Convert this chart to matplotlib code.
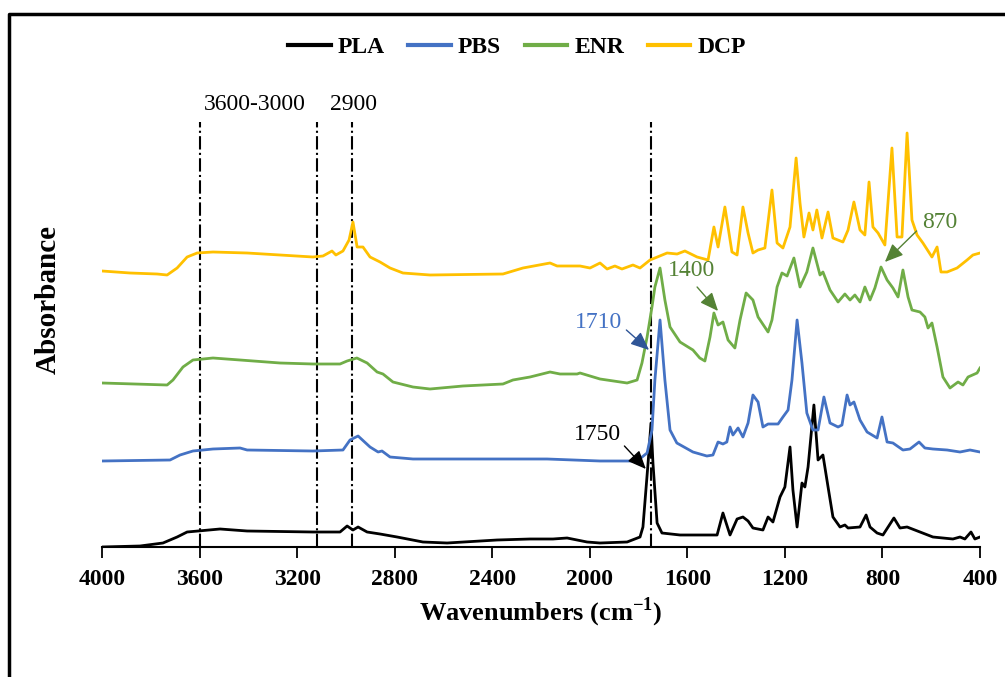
import matplotlib.pyplot as plt
from matplotlib.lines import Line2D

plt.rcParams['font.family'] = ['Liberation Serif', 'DejaVu Serif']
plt.rcParams['mathtext.fontset'] = 'custom'
plt.rcParams['mathtext.rm'] = 'Liberation Serif'
plt.rcParams['mathtext.bf'] = 'Liberation Serif:bold'

# wavenumbers (cm-1) and stacked absorbance (arbitrary units, offset per sample)
pla_wn = [4000, 3844, 3750, 3692, 3651, 3606, 3516, 3405, 3135, 3024, 2995, 2971, 2950, 2913, 2860,
          2790, 2684, 2585, 2380, 2245, 2151, 2093, 2011, 1958, 1847, 1794, 1782, 1761, 1749, 1741,
          1724, 1704, 1630, 1478, 1454, 1425, 1396, 1372, 1351, 1331, 1290, 1269, 1249, 1220, 1200,
          1179, 1167, 1150, 1130, 1118, 1105, 1081, 1064, 1044, 1023, 1003, 974, 954, 941, 892,
          867, 851, 822, 798, 753, 728, 699, 646, 593, 511, 482, 462, 437, 421, 400]
pla_abs = [0, 1, 4, 10, 15, 16, 18, 16, 15, 15, 21, 17, 20, 15, 13,
           10, 5, 4, 7, 8, 8, 9, 5, 4, 5, 10, 20, 84, 124, 84,
           24, 14, 12, 12, 34, 12, 28, 30, 26, 19, 17, 30, 25, 50, 60,
           100, 57, 20, 64, 60, 80, 142, 87, 92, 60, 30, 20, 22, 19, 20,
           32, 20, 14, 12, 29, 19, 20, 15, 10, 8, 10, 8, 15, 8, 10]

pbs_wn = [4000, 3721, 3680, 3627, 3545, 3434, 3405, 3135, 3012, 2983, 2950, 2901, 2868, 2852, 2819,
          2725, 2175, 1958, 1806, 1765, 1745, 1733, 1712, 1692, 1671, 1643, 1577, 1520, 1495, 1474,
          1454, 1438, 1425, 1413, 1392, 1372, 1351, 1331, 1310, 1290, 1269, 1228, 1208, 1187, 1171,
          1150, 1130, 1110, 1085, 1064, 1040, 1015, 982, 966, 945, 933, 917, 892, 863, 822,
          802, 781, 757, 716, 687, 650, 626, 593, 535, 482, 441, 400]
pbs_abs = [86, 87, 92, 96, 98, 99, 97, 96, 97, 107, 111, 100, 95, 96, 90,
           88, 88, 86, 86, 94, 117, 167, 227, 167, 117, 104, 95, 91, 92, 105,
           103, 105, 120, 112, 119, 110, 124, 152, 145, 120, 123, 123, 130, 137, 167,
           227, 184, 134, 117, 117, 150, 124, 120, 122, 152, 142, 145, 127, 115, 109,
           130, 105, 104, 97, 98, 105, 99, 98, 97, 95, 97, 95]

enr_wn = [4000, 3733, 3709, 3668, 3627, 3545, 3434, 3270, 3135, 3024, 2995, 2955, 2913, 2872, 2848,
          2807, 2725, 2655, 2520, 2356, 2315, 2245, 2163, 2122, 2052, 2040, 1958, 1847, 1806, 1786,
          1765, 1745, 1733, 1712, 1692, 1671, 1630, 1597, 1577, 1549, 1528, 1507, 1491, 1474, 1454,
          1433, 1405, 1384, 1359, 1331, 1310, 1269, 1253, 1232, 1212, 1191, 1163, 1138, 1110, 1085,
          1056, 1044, 1015, 982, 954, 933, 913, 892, 872, 851, 831, 806, 781, 757, 736,
          716, 695, 679, 646, 626, 613, 597, 576, 552, 523, 490, 470, 449, 412, 400]
enr_abs = [164, 162, 167, 180, 187, 189, 187, 184, 183, 183, 186, 189, 184, 175, 173,
           165, 160, 158, 161, 163, 167, 170, 175, 173, 173, 174, 168, 164, 167, 184,
           210, 240, 260, 279, 247, 220, 205, 200, 197, 189, 186, 210, 234, 222, 225,
           207, 199, 227, 254, 247, 230, 215, 227, 260, 274, 271, 289, 260, 275, 299,
           272, 275, 257, 245, 253, 247, 252, 245, 260, 247, 259, 280, 267, 259, 250,
           277, 250, 237, 235, 230, 219, 224, 200, 170, 159, 165, 162, 170, 174, 179]

dcp_wn = [4000, 3885, 3774, 3733, 3692, 3651, 3610, 3545, 3405, 3135, 3094, 3057, 3041, 3012, 2987,
          2971, 2954, 2930, 2901, 2860, 2819, 2766, 2655, 2356, 2274, 2163, 2134, 2040, 1999, 1958,
          1929, 1897, 1868, 1823, 1794, 1753, 1683, 1642, 1610, 1560, 1515, 1491, 1474, 1446, 1417,
          1396, 1372, 1351, 1331, 1310, 1282, 1253, 1232, 1208, 1179, 1154, 1138, 1122, 1101, 1085,
          1069, 1048, 1023, 1003, 962, 941, 917, 892, 872, 855, 839, 818, 790, 761, 740,
          720, 699, 679, 658, 634, 597, 576, 560, 535, 494, 453, 429, 400]
dcp_abs = [276, 274, 273, 272, 279, 290, 294, 295, 294, 290, 291, 296, 292, 296, 307,
           325, 300, 300, 290, 285, 279, 274, 272, 273, 279, 284, 281, 281, 279, 284,
           278, 281, 278, 282, 279, 287, 294, 293, 296, 290, 287, 320, 300, 340, 295,
           292, 340, 314, 294, 297, 299, 357, 304, 299, 320, 389, 344, 310, 334, 317,
           337, 309, 335, 309, 305, 317, 345, 317, 312, 365, 320, 314, 302, 399, 310,
           310, 414, 327, 312, 304, 290, 300, 275, 275, 279, 287, 292, 294]

labels = ['PLA', 'PBS', 'ENR', 'DCP']
colors = ['#000000', '#4472C4', '#70AD47', '#FFC000']
marker_lines = [3600, 3120, 2975, 1750]

fig = plt.figure(figsize=(10.05, 6.77), dpi=100)
ax = fig.add_axes([102 / 1005, 130 / 677, 878 / 1005, 447 / 677])

series = [(pla_wn, pla_abs), (pbs_wn, pbs_abs), (enr_wn, enr_abs), (dcp_wn, dcp_abs)]
for (wn, ab), lab, col in zip(series, labels, colors):
    ax.plot(wn, ab, color=col, lw=2.0, label=lab, solid_joinstyle='round')

for w in marker_lines:
    ax.plot([w, w], [0, 425], color='black', lw=1.5, ls='-.', zorder=1)

ax.set_xlim(4000, 400)
ax.set_ylim(0, 447)
ax.set_xticks(range(4000, 399, -400))
ax.tick_params(axis='x', direction='out', length=8, width=1.3, labelsize=17, pad=8)
for t in ax.get_xticklabels():
    t.set_fontweight('bold')
ax.set_yticks([])
for s in ['top', 'right', 'left']:
    ax.spines[s].set_visible(False)
ax.spines['bottom'].set_linewidth(1.5)

ax.set_xlabel('Wavenumbers (cm$^{\\mathbf{-1}}$)', fontsize=19, fontweight='bold')
ax.xaxis.set_label_coords(0.5, (547 - 612) / 447)
ax.xaxis.label.set_va('center')
fig.text(48 / 1005, 1 - 300 / 677, 'Absorbance', rotation=90, fontsize=21, fontweight='bold',
         ha='center', va='center')

# peak labels
ax.text(3373, 443, '3600-3000', fontsize=17, ha='center', va='center')
ax.text(2967, 443, '2900', fontsize=17, ha='center', va='center')

arrow_style = '-|>,head_length=0.7,head_width=0.3'
notes = [
    ('1710', (1966, 224), (1850, 217), (1757, 197), '#4472C4', '#2F5597'),
    ('1750', (1970, 112), (1858, 101), (1770, 78), 'black', 'black'),
    ('1400', (1581, 276), (1560, 260), (1474, 236), '#548235', '#548235'),
    ('870', (564, 325), (660, 316), (790, 285), '#548235', '#548235'),
]
for txt, tpos, tail, tip, tcol, acol in notes:
    ax.text(tpos[0], tpos[1], txt, fontsize=17, color=tcol, ha='center', va='center')
    ax.annotate('', xy=tip, xytext=tail,
                arrowprops=dict(arrowstyle=arrow_style, color=acol, lw=1, mutation_scale=16,
                                shrinkA=0, shrinkB=0))

handles = [Line2D([0], [0], color=c, lw=3) for c in colors]
leg = fig.legend(handles, labels, loc='center', bbox_to_anchor=(517 / 1005, 1 - 47 / 677),
                 ncol=4, frameon=False, handlelength=1.8, handletextpad=0.3, columnspacing=1.0,
                 prop={'weight': 'bold', 'size': 17})

# outer frame (top and left edges visible)
fig.add_artist(Line2D([9 / 1005, 9 / 1005, 1.0], [0, 1 - 14 / 677, 1 - 14 / 677],
                      color='black', lw=2.5, transform=fig.transFigure))

fig.savefig('out.png', dpi=100)
